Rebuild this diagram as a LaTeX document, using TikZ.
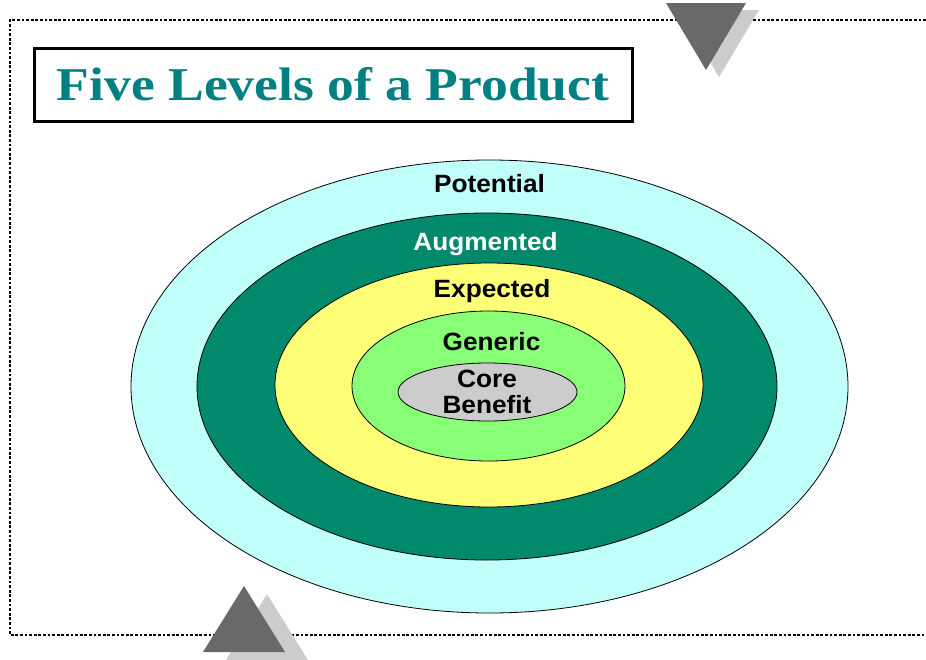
\documentclass[tikz,border=0pt]{standalone}
\usepackage{fontspec}
\setmainfont{Liberation Serif}
\newfontfamily\levelfont{Liberation Sans}
\usepackage{tikz}
\usetikzlibrary{shapes.geometric}

\definecolor{potcol}{RGB}{192,255,250}
\definecolor{augcol}{RGB}{0,137,106}
\definecolor{expcol}{RGB}{255,255,119}
\definecolor{gencol}{RGB}{136,255,119}
\definecolor{corecol}{RGB}{204,204,204}
\definecolor{titlecol}{RGB}{0,128,128}
\definecolor{tridark}{RGB}{105,105,105}
\definecolor{trilight}{RGB}{204,204,204}

\newcommand{\lvltext}[1]{\scalebox{1.05}[1]{#1}}

\tikzset{
  level/.style={draw,ellipse,line width=0.8pt,inner sep=0pt},
  lbl/.style={anchor=base,font=\levelfont\fontsize{25}{27}\selectfont\bfseries},
  frame/.style={line width=2.4pt,dash pattern=on 2.8pt off 1.8pt}
}

\begin{document}
\begin{tikzpicture}[x=1pt,y=-1pt]
  \useasboundingbox (0,0) rectangle (926,659);
  % dotted frame
  \draw[frame] (926,20) -- (10,20) -- (10,635) -- (926,635);
  % title
  \node[draw,line width=3pt,minimum width=598pt,minimum height=73pt,inner sep=0pt] (title) at (333,84.5)
    {\textcolor{titlecol}{\scalebox{1.14}[1]{\fontsize{47}{50}\selectfont\bfseries Five Levels of a Product}}};
  % ellipses
  \node[level,fill=potcol,minimum width=717pt,minimum height=453pt] (pot) at (489.5,386.5) {};
  \node[level,fill=augcol,minimum width=580pt,minimum height=347pt] (aug) at (487,386.5) {};
  \node[level,fill=expcol,minimum width=428pt,minimum height=244pt] (exp) at (489,385) {};
  \node[level,fill=gencol,minimum width=273pt,minimum height=150pt] (gen) at (488.5,386) {};
  \node[level,fill=corecol,minimum width=179pt,minimum height=58pt] (core) at (487.5,392) {};
  % labels
  \node[lbl] (potlbl) at (489.5,192) {\lvltext{Potential}};
  \node[lbl,text=white] (auglbl) at (485.5,250) {\lvltext{Augmented}};
  \node[lbl] (explbl) at (492,297) {\lvltext{Expected}};
  \node[lbl] (genlbl) at (491.5,350) {\lvltext{Generic}};
  \node[lbl] (corelbl) at (487,387) {\lvltext{Core}};
  \node[lbl] (benlbl) at (487,413) {\lvltext{Benefit}};
  % triangles
  \fill[trilight] (679,10) -- (759,10) -- (719,77) -- cycle;
  \fill[tridark] (666,3) -- (746,3) -- (706,70) -- cycle;
  \fill[trilight] (267,594) -- (308,660) -- (226,660) -- cycle;
  \fill[tridark] (244,586) -- (285,652) -- (203,652) -- cycle;
\end{tikzpicture}
\end{document}
